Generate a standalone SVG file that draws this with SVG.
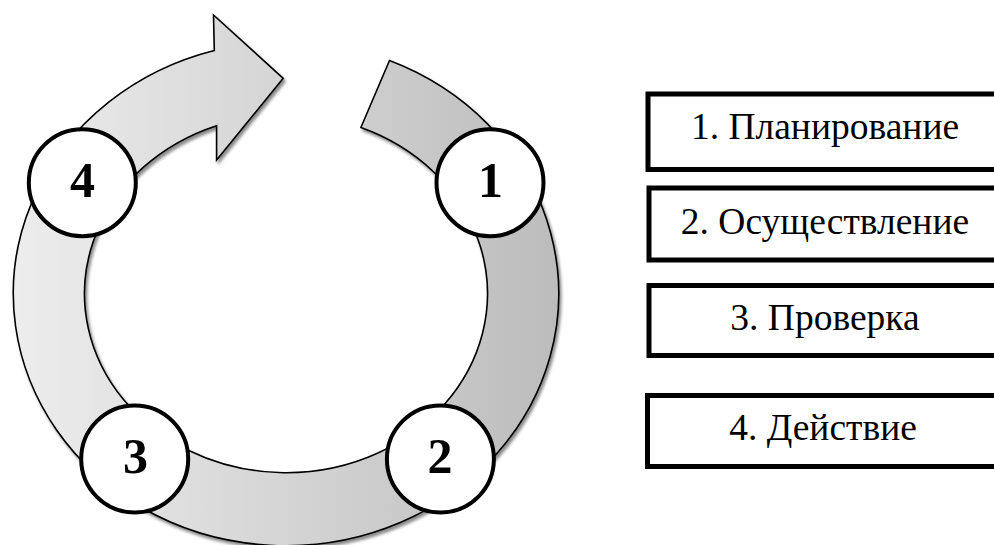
<svg xmlns="http://www.w3.org/2000/svg" width="994" height="545" viewBox="0 0 994 545">
  <style>
    .ring { fill: url(#ringGrad); stroke: #000; stroke-width: 1.6; stroke-linejoin: miter; filter: url(#shadow); }
    .node { fill: #fff; stroke: #000; stroke-width: 4; }
    .num { font-family: "Liberation Serif", serif; font-weight: bold; font-size: 50px; text-anchor: middle; fill: #000; }
    .box { fill: #fff; stroke: #000; stroke-width: 5; }
    .lbl { font-family: "Liberation Serif", serif; font-size: 37.5px; text-anchor: middle; fill: #000; }
  </style>
  <defs>
    <linearGradient id="ringGrad" gradientUnits="userSpaceOnUse" x1="13" y1="0" x2="559" y2="0">
      <stop offset="0" stop-color="#ededed"/>
      <stop offset="1" stop-color="#bcbcbc"/>
    </linearGradient>
    <filter id="shadow" x="-10%" y="-10%" width="120%" height="120%">
      <feDropShadow dx="2" dy="3" stdDeviation="1.8" flood-color="#000" flood-opacity="0.45"/>
    </filter>
  </defs>
  <rect width="994" height="545" fill="#fff"/>

  <g id="connectors">
    <path class="ring" d="M 389.5 60.56 A 272.7 252 0 1 1 214.3 50.57 L 213.5 15 L 283.2 78.3 L 216.6 160 L 216.6 125.65 A 201.5 179 0 1 0 360.9 127.53 Z"/>
  </g>

  <g id="node1">
    <circle class="node" cx="490" cy="182.7" r="53.5"/>
    <text class="num" x="490.5" y="197">1</text>
  </g>
  <g id="node2">
    <circle class="node" cx="440.4" cy="459" r="53.5"/>
    <text class="num" x="440" y="473">2</text>
  </g>
  <g id="node3">
    <circle class="node" cx="134.7" cy="459" r="53.5"/>
    <text class="num" x="135.5" y="473">3</text>
  </g>
  <g id="node4">
    <circle class="node" cx="82.3" cy="182.7" r="53.5"/>
    <text class="num" x="82.5" y="197">4</text>
  </g>

  <g id="box1">
    <rect class="box" x="648" y="94" width="400" height="75.5"/>
    <text class="lbl" x="825" y="139">1. Планирование</text>
  </g>
  <g id="box2">
    <rect class="box" x="649" y="188" width="400" height="72"/>
    <text class="lbl" x="825" y="234">2. Осуществление</text>
  </g>
  <g id="box3">
    <rect class="box" x="649" y="285.5" width="400" height="70"/>
    <text class="lbl" x="825" y="330">3. Проверка</text>
  </g>
  <g id="box4">
    <rect class="box" x="647.5" y="395.5" width="400" height="71"/>
    <text class="lbl" x="823" y="440">4. Действие</text>
  </g>
</svg>
